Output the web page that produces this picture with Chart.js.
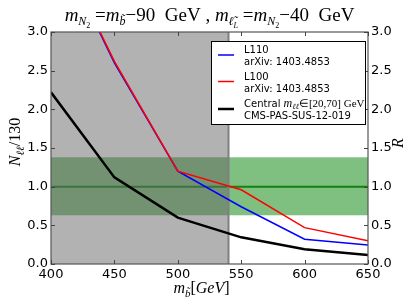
<!DOCTYPE html>
<html><head><meta charset="utf-8">
<script src="https://cdn.jsdelivr.net/npm/chart.js"></script>
<style>html,body{margin:0;padding:0;background:#fff}#w{width:409px;height:307px}</style>
</head><body><div id="w"><canvas id="c" width="409" height="307"></canvas></div>
<script>
// ---- data ----
const masses = [400, 450, 500, 550, 600, 650];
const l110 = [4.3, 2.60, 1.20, 0.74, 0.32, 0.245];
const l100 = [4.3, 2.62, 1.20, 0.96, 0.47, 0.30];
const central = [2.22, 1.12, 0.60, 0.345, 0.19, 0.115];
const bandR = [0.63, 1.0, 1.38];      // low, central, high of R band
const excluded = [400, 540];          // excluded sbottom mass range
const xTicks = [400, 450, 500, 550, 600, 650];
const yTicks = [0, 0.5, 1.0, 1.5, 2.0, 2.5, 3.0];
const legendLines = [
  ['L110', 'arXiv: 1403.4853'],
  ['L100', 'arXiv: 1403.4853'],
  ['Central', 'CMS-PAS-SUS-12-019']
];

const SER = "'Liberation Serif'";
const I = s => `italic ${s}px ${SER}`;
const R = s => `${s}px ${SER}`;
const SANS = s => `${s}px 'DejaVu Sans'`;

function richWidth(ctx, parts) {
  let w = 0;
  for (const p of parts) { ctx.font = p.f; w += ctx.measureText(p.t).width; }
  return w;
}
function drawRich(ctx, parts, x, y, align) {
  const w = richWidth(ctx, parts);
  let cx = align === 'center' ? x - w / 2 : (align === 'right' ? x - w : x);
  ctx.textBaseline = 'alphabetic'; ctx.textAlign = 'left';
  for (const p of parts) {
    ctx.font = p.f;
    ctx.fillText(p.t, cx, y + (p.dy || 0));
    cx += ctx.measureText(p.t).width;
  }
}

const pts = arr => masses.map((m, i) => ({x: m, y: arr[i]}));

const deco = {
  id: 'deco',
  beforeDatasetsDraw(chart) {
    const {ctx, chartArea: a, scales: {x, y}} = chart;
    ctx.save();
    ctx.beginPath(); ctx.rect(a.left, a.top, a.right - a.left, a.bottom - a.top); ctx.clip();
    // band
    const yl = y.getPixelForValue(bandR[0]), yh = y.getPixelForValue(bandR[2]);
    ctx.fillStyle = 'rgba(0,128,0,0.5)';
    ctx.fillRect(a.left, yh, a.right - a.left, yl - yh);
    // central line
    const yc = y.getPixelForValue(bandR[1]);
    ctx.strokeStyle = 'rgba(0,120,0,0.85)'; ctx.lineWidth = 2;
    ctx.beginPath(); ctx.moveTo(a.left, yc); ctx.lineTo(a.right, yc); ctx.stroke();
    // excluded region (translucent overlay)
    const x0 = x.getPixelForValue(excluded[0]), x1 = x.getPixelForValue(excluded[1]);
    ctx.fillStyle = 'rgba(102,102,102,0.5)';
    ctx.fillRect(x0, a.top, x1 - x0, a.bottom - a.top);
    // excluded edge
    ctx.strokeStyle = '#808080'; ctx.lineWidth = 2;
    ctx.beginPath(); ctx.moveTo(x1, a.top); ctx.lineTo(x1, a.bottom); ctx.stroke();
    ctx.restore();
  },
  afterDraw(chart) {
    const {ctx, chartArea: a, scales: {x, y}} = chart;
    ctx.save();
    // frame
    ctx.strokeStyle = '#555'; ctx.lineWidth = 1.2;
    ctx.strokeRect(a.left, a.top, a.right - a.left, a.bottom - a.top);
    // inward ticks
    ctx.strokeStyle = '#444'; ctx.lineWidth = 1;
    ctx.beginPath();
    for (const v of xTicks) {
      const px = Math.round(x.getPixelForValue(v)) + 0.5;
      ctx.moveTo(px, a.bottom); ctx.lineTo(px, a.bottom - 4);
      ctx.moveTo(px, a.top); ctx.lineTo(px, a.top + 4);
    }
    for (const v of yTicks) {
      const py = Math.round(y.getPixelForValue(v)) + 0.5;
      ctx.moveTo(a.left, py); ctx.lineTo(a.left + 4, py);
      ctx.moveTo(a.right, py); ctx.lineTo(a.right - 4, py);
    }
    ctx.stroke();
    ctx.fillStyle = '#000';
    // title
    const tb = 19, ts = 12, tss = 8;
    drawRich(ctx, [
      {t: 'm', f: I(tb)}, {t: 'N', f: I(ts), dy: 4}, {t: '2', f: R(tss), dy: 7},
      {t: ' =', f: R(tb)}, {t: 'm', f: I(tb)}, {t: 'b\u0303', f: I(ts), dy: 4},
      {t: '\u221290  GeV , ', f: R(tb)},
      {t: 'm', f: I(tb)}, {t: '\u2113\u0303', f: I(ts), dy: 4}, {t: 'L', f: I(tss), dy: 7},
      {t: ' =', f: R(tb)}, {t: 'm', f: I(tb)}, {t: 'N', f: I(ts), dy: 4}, {t: '2', f: R(tss), dy: 7},
      {t: '\u221240  GeV', f: R(tb)}
    ], (a.left + a.right) / 2, 21, 'center');
    const big = 16, sub = 11;
    // x label
    drawRich(ctx, [
      {t: 'm', f: I(big)}, {t: 'b\u0303', f: I(sub), dy: 4}, {t: '[', f: R(big)},
      {t: 'GeV', f: I(big)}, {t: ']', f: R(big)}
    ], (a.left + a.right) / 2 - 8, 293, 'center');
    // y label left
    ctx.save(); ctx.translate(20, 142); ctx.rotate(-Math.PI / 2);
    drawRich(ctx, [{t: 'N', f: I(big)}, {t: '\u2113\u2113', f: I(sub), dy: 4}, {t: '/130', f: R(big)}], 0, 0, 'center');
    ctx.restore();
    // y label right
    ctx.save(); ctx.translate(403, 143); ctx.rotate(-Math.PI / 2);
    drawRich(ctx, [{t: 'R', f: I(big)}], 0, 0, 'center');
    ctx.restore();
    // legend
    const lx = 211, ly = 41, lw = 154, lh = 83;
    ctx.fillStyle = '#fff'; ctx.fillRect(lx, ly, lw, lh);
    ctx.strokeStyle = '#000'; ctx.lineWidth = 1;
    ctx.strokeRect(lx + 0.5, ly + 0.5, lw, lh);
    const ds = [chart.data.datasets[2], chart.data.datasets[1], chart.data.datasets[0]];
    const rows = [55, 81.5, 109];
    ds.forEach((d, i) => {
      ctx.strokeStyle = d.borderColor; ctx.lineWidth = d.borderWidth;
      ctx.beginPath(); ctx.moveTo(218, rows[i]); ctx.lineTo(234, rows[i]); ctx.stroke();
      ctx.fillStyle = '#000';
      const l1 = rows[i] - 2, l2 = rows[i] + 10;
      if (i < 2) {
        drawRich(ctx, [{t: legendLines[i][0], f: SANS(10)}], 244, l1, 'left');
      } else {
        drawRich(ctx, [{t: legendLines[i][0] + ' ', f: SANS(10)}, {t: 'm', f: I(12)},
          {t: '\u2113\u2113', f: I(8), dy: 2}, {t: '\u2208[20,70] GeV', f: R(11)}], 244, l1, 'left');
      }
      drawRich(ctx, [{t: legendLines[i][1], f: SANS(10)}], 244, l2, 'left');
    });
    ctx.restore();
  }
};

const tickFont = {family: 'DejaVu Sans', size: 13};
new Chart(document.getElementById('c'), {
  type: 'line',
  data: {
    datasets: [
      {label: 'Central', data: pts(central), borderColor: '#000', borderWidth: 2.5, order: 1},
      {label: 'L100', data: pts(l100), borderColor: '#ff0000', borderWidth: 1.5, order: 2},
      {label: 'L110', data: pts(l110), borderColor: '#0000ff', borderWidth: 1.5, order: 3}
    ]
  },
  options: {
    responsive: false, animation: false,
    layout: {padding: {top: 32, left: 0, right: 0, bottom: 0}},
    elements: {point: {radius: 0}, line: {tension: 0}},
    plugins: {legend: {display: false}, title: {display: false}, tooltip: {enabled: false}},
    scales: {
      x: {
        type: 'linear', min: 400, max: 650,
        afterBuildTicks: s => { s.ticks = xTicks.map(v => ({value: v})); },
        afterFit: s => { s.height = 43; },
        grid: {display: false, drawTicks: false}, border: {display: false},
        ticks: {font: tickFont, color: '#000', padding: 3, maxRotation: 0, callback: v => String(v)}
      },
      y: {
        type: 'linear', position: 'left', min: 0, max: 3,
        afterBuildTicks: s => { s.ticks = yTicks.map(v => ({value: v})); },
        afterFit: s => { s.width = 51; },
        grid: {display: false, drawTicks: false}, border: {display: false},
        ticks: {font: tickFont, color: '#000', padding: 3, callback: v => v.toFixed(1)}
      },
      y2: {
        type: 'linear', position: 'right', min: 0, max: 3,
        afterBuildTicks: s => { s.ticks = yTicks.map(v => ({value: v})); },
        afterFit: s => { s.width = 41; },
        grid: {display: false, drawTicks: false}, border: {display: false},
        ticks: {font: tickFont, color: '#000', padding: 3, callback: v => v.toFixed(1)}
      }
    }
  },
  plugins: [deco]
});
</script></body></html>
